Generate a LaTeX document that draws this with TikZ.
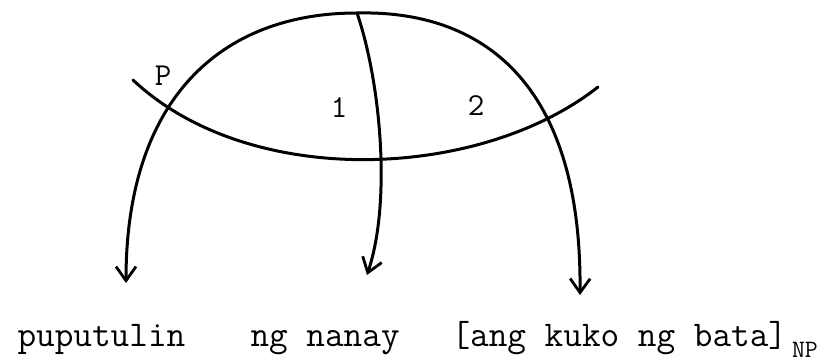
\documentclass[tikz,border=0pt]{standalone}
\usetikzlibrary{arrows.meta}
\begin{document}
\begin{tikzpicture}[x=1pt,y=-1pt,line width=3pt,line cap=round,
  arr/.style={-{Straight Barb[length=14pt,width=20pt,line width=2.8pt]}},
  lbl/.style={font=\fontsize{32}{36}\selectfont\ttfamily,inner sep=0pt},
  word/.style={font=\fontsize{36.2}{40}\selectfont\ttfamily,inner sep=0pt,anchor=base west},
  sub/.style={font=\fontsize{25}{28}\selectfont\ttfamily,inner sep=0pt,anchor=base west}]
\useasboundingbox (0,0) rectangle (836,362);
% key points
\coordinate (top) at (357,13);
\coordinate (tipP) at (126,283);
\coordinate (tip1) at (367,275);
\coordinate (tip2) at (580,295);
\coordinate (lowL) at (133,80);
\coordinate (lowR) at (598,87);
% big arc (two halves) with arrows
\draw[arr] (top) .. controls (220,13) and (126,100) .. (tipP);
\draw[arr] (top) .. controls (480,10) and (582,80) .. (tip2);
% middle arrow
\draw[arr] (top) .. controls (380,80) and (392,200) .. (tip1);
% lower hanging curve
\draw (lowL) .. controls (250,190) and (480,180) .. (lowR);
% labels
\node[lbl] (lP) at (163,76) {P};
\node[lbl] (l1) at (339,108) {1};
\node[lbl] (l2) at (476,106) {2};
% words
\node[word] (w1) at (16,346) {puputulin};
\node[word] (w2) at (249,346) {ng nanay};
\node[word] (w3) at (450,346) {[ang kuko ng bata]};
\node[sub] (np) at (w3.base east) [xshift=2pt,yshift=-11pt] {NP};
\end{tikzpicture}
\end{document}
